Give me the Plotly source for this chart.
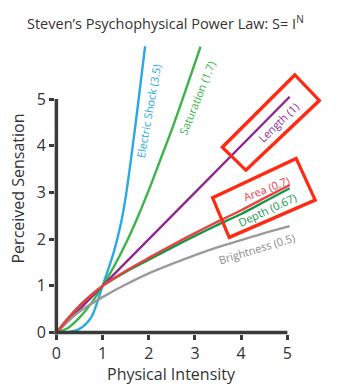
import plotly.graph_objects as go

# Perceived sensation vs. physical intensity for several stimulus types
shock_x = [0, 0.25, 0.5, 0.75, 1.0, 1.25, 1.4, 1.5, 1.6, 1.75, 1.92]
shock_y = [0, 0.01, 0.08, 0.32, 1.0, 1.75, 2.35, 2.9, 3.6, 4.75, 6.13]

saturation_x = [0, 0.25, 0.5, 0.75, 1.0, 1.25, 1.5, 1.75, 2.0, 2.25, 2.5, 2.75, 3.12]
saturation_y = [0, 0.1, 0.32, 0.62, 1.0, 1.42, 1.9, 2.45, 3.05, 3.7, 4.35, 5.05, 6.12]

length_x = [0, 1.0, 2.5, 5.05]
length_y = [0, 1.0, 2.5, 5.05]

common_x = [0, 0.25, 0.5, 0.75, 1.0, 1.5, 2.0, 2.5, 3.0, 3.5, 4.0, 4.5, 5.05]
area_y = [0, 0.3, 0.57, 0.8, 1.0, 1.32, 1.6, 1.87, 2.13, 2.38, 2.62, 2.88, 3.16]
depth_y = [0, 0.3, 0.57, 0.8, 1.0, 1.3, 1.56, 1.82, 2.07, 2.31, 2.54, 2.8, 3.09]

brightness_x = [0, 0.25, 0.5, 1.0, 1.5, 2.0, 2.5, 3.0, 3.5, 4.0, 4.5, 5.05]
brightness_y = [0, 0.24, 0.45, 0.76, 1.03, 1.27, 1.47, 1.66, 1.83, 1.98, 2.13, 2.28]

tick_vals = [0, 1, 2, 3, 4, 5]

FONT = "Open Sans"
AXIS = "#3a3a3a"
X_RANGE = [-0.03, 5.1]
Y_RANGE = [-0.03, 6.2]


def px(x):
    return (x - X_RANGE[0]) / (X_RANGE[1] - X_RANGE[0])


def py(y):
    return (y - Y_RANGE[0]) / (Y_RANGE[1] - Y_RANGE[0])


series = [
    (shock_x, shock_y, "#29aae1"),
    (saturation_x, saturation_y, "#3cb44a"),
    (length_x, length_y, "#8e2a8f"),
    (brightness_x, brightness_y, "#9a9a9a"),
    (common_x, depth_y, "#13964a"),
    (common_x, area_y, "#ec4040"),
]

fig = go.Figure()
for xs, ys, col in series:
    fig.add_trace(go.Scatter(x=xs, y=ys, mode="lines",
                             line=dict(color=col, width=2.4, shape="spline", smoothing=0.8),
                             hoverinfo="skip", showlegend=False))

# curve labels (text, x, y, angle, colour)
labels = [
    ("Electric Shock (3.5)", 2.0, 4.75, -80, "#29aae1"),
    ("Saturation (1.7)", 3.05, 5.03, -68, "#3cb44a"),
    ("Length (1)", 4.80, 4.50, -44, "#8e2a8f"),
    ("Area (0.7)", 4.54, 3.09, -21.5, "#e5404f"),
    ("Depth (0.67)", 4.57, 2.63, -25, "#13964a"),
    ("Brightness (0.5)", 4.34, 1.81, -17, "#8a8a8a"),
]
for text, x, y, ang, col in labels:
    fig.add_annotation(x=px(x), y=py(y), xref="paper", yref="paper", text=text,
                       showarrow=False, textangle=ang, xanchor="center", yanchor="middle",
                       font=dict(family=FONT, size=11, color=col))

fig.add_annotation(x=0.466, y=1.072, xref="paper", yref="paper",
                   text="Steven\u2019s Psychophysical Power Law: S= I<sup>N</sup>",
                   showarrow=False, xanchor="center", yanchor="middle",
                   font=dict(family=FONT, size=14.5, color="#333333"))

# x-axis title, sitting at the bottom edge
fig.add_annotation(x=px(2.5), y=-0.137, xref="paper", yref="paper",
                   text="Physical Intensity", showarrow=False,
                   xanchor="center", yanchor="middle",
                   font=dict(family=FONT, size=16, color="#333333"))

shapes = []
# axis lines running from 0 to 5 only
shapes.append(dict(type="line", xref="paper", yref="paper",
                   x0=px(0), x1=px(0), y0=py(-0.04), y1=py(5), line=dict(color=AXIS, width=3.5)))
shapes.append(dict(type="line", xref="paper", yref="paper",
                   x0=px(-0.04), x1=px(5), y0=py(0), y1=py(0), line=dict(color=AXIS, width=3.5)))

# highlight boxes around the labels
boxes = [
    [(3.59, 3.97), (5.16, 5.52), (5.69, 4.97), (4.10, 3.48)],
    [(3.38, 2.89), (5.19, 3.73), (5.60, 2.84), (3.74, 2.04)],
]
for corners in boxes:
    for off, w, op in [((0, 0), 3.2, 1.0), ((0.015, -0.02), 1.6, 0.7)]:
        path = "M " + " L ".join(f"{px(x + off[0]):.4f},{py(y + off[1]):.4f}" for x, y in corners) + " Z"
        shapes.append(dict(type="path", xref="paper", yref="paper", path=path,
                           line=dict(color="#ff2a12", width=w), opacity=op))

fig.update_layout(
    width=343, height=385,
    margin=dict(l=55, r=51, t=43, b=51),
    paper_bgcolor="white", plot_bgcolor="white",
    shapes=shapes,
    font=dict(family=FONT, color="#333333"),
    xaxis=dict(range=X_RANGE, tickvals=tick_vals, showgrid=False, zeroline=False,
               showline=False, ticks="outside", ticklen=5, tickwidth=3, tickcolor=AXIS,
               automargin=False,
               tickfont=dict(family=FONT, size=16, color="#333333")),
    yaxis=dict(range=Y_RANGE, tickvals=tick_vals, showgrid=False, zeroline=False,
               showline=False, ticks="outside", ticklen=5, tickwidth=3, tickcolor=AXIS,
               automargin=False,
               tickfont=dict(family=FONT, size=16, color="#333333"),
               title=dict(text="Perceived Sensation", font=dict(family=FONT, size=16, color="#333333"),
                          standoff=8)),
)

fig.write_html("out.html")
